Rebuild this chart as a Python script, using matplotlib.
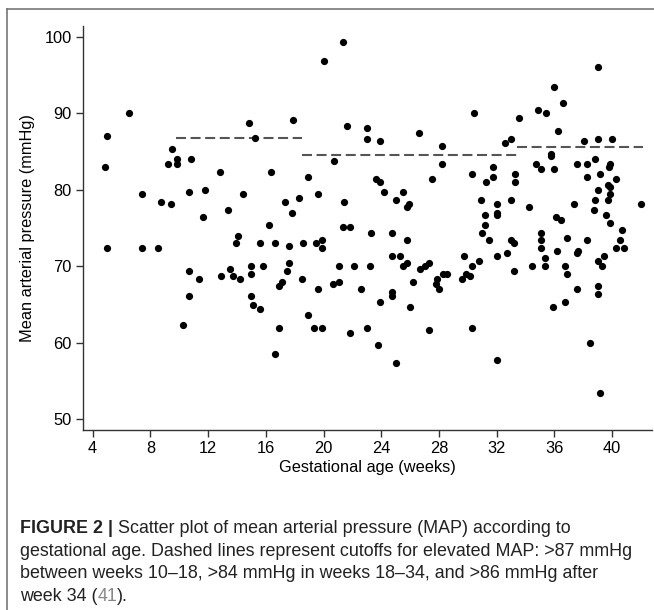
import matplotlib.pyplot as plt
from matplotlib.lines import Line2D

plt.rcParams['font.family'] = ['Liberation Sans', 'DejaVu Sans']

# Gestational age (weeks) and MAP (mmHg)
gest_age = [
    4.97, 4.87, 4.97, 6.55, 7.4, 7.4, 8.55, 8.71, 9.4, 9.24, 9.52, 9.86, 9.86,
    10.8, 10.67, 10.67, 10.67, 10.28, 11.4, 11.68, 11.79, 12.8, 12.92, 13.36,
    13.52, 13.7, 14.07, 13.95, 14.23, 14.39, 14.83, 15.22, 14.94, 14.94, 14.94,
    15.1, 15.63, 15.63, 15.79, 16.34, 16.23, 16.67, 16.67, 16.94, 16.94, 17.1,
    17.36, 17.47, 17.63, 17.63, 17.79, 17.91, 18.32, 18.5, 18.6, 18.94, 18.94,
    19.36, 19.63, 19.63, 19.47, 19.9, 19.9, 19.9, 20.06,
    21.34, 21.64, 20.74, 21.45, 21.34, 21.82, 21.04, 20.65, 21.04, 21.82,
    22.14, 22.6, 23.04, 23.04, 23.92, 23.2, 23.32, 23.04, 23.76, 23.64, 23.92,
    24.19, 23.92, 24.77, 24.77, 24.77, 24.77, 25.05, 25.48, 25.32, 25.48, 25.76,
    25.76, 25.76, 25.94, 25.05, 26.18, 25.99, 26.61, 26.7, 27.03, 27.3, 27.51,
    27.3, 27.86, 27.79, 28.02, 28.29, 28.53, 28.18, 28.18, 29.59, 29.86, 30.14,
    29.75, 30.3, 30.74, 30.3, 30.46, 30.3, 30.9, 31.18, 31.18, 31.01, 31.45,
    31.29, 31.73, 31.73, 32.05, 32.05, 32.05, 32.05, 32.05, 32.58, 33.02, 33.02,
    33.29, 33.29, 33.02, 33.18, 32.74, 33.18, 33.57, 34.26, 34.42, 34.88, 35.44,
    36.0, 36.57, 36.27, 34.75, 35.07, 35.74, 35.74, 36.0, 35.07, 35.07, 35.07,
    35.37, 35.37, 35.9, 36.13, 36.45, 36.18, 36.87, 36.73, 36.87, 36.73, 37.33,
    37.56, 37.63, 37.56, 37.56, 38.02, 38.29, 38.29, 38.29, 38.46, 38.82, 38.99,
    38.99, 39.17, 38.99, 38.82, 38.76, 38.99, 39.31, 39.45, 38.99, 38.99, 39.17,
    40.0, 39.84, 39.75, 39.68, 39.84, 39.84, 39.68, 39.59, 39.88, 40.28, 40.71,
    40.53, 40.28, 40.85, 41.98,
]
map_mmhg = [
    87.0, 83.0, 72.4, 90.1, 79.4, 72.4, 72.4, 78.4, 78.1, 83.4, 85.4, 84.05, 83.4,
    84.05, 79.7, 69.4, 66.1, 62.4, 68.4, 76.4, 80.0, 82.4, 68.7, 77.4,
    69.7, 68.7, 74.0, 73.0, 68.4, 79.4, 88.8, 86.75, 70.1, 69.0, 66.1,
    65.0, 64.4, 73.0, 70.1, 82.4, 75.4, 73.0, 58.6, 62.0, 67.4, 68.0,
    78.4, 69.4, 70.4, 72.7, 77.0, 89.1, 79.0, 68.4, 73.0, 81.7, 63.7,
    62.0, 79.4, 67.1, 73.0, 62.0, 72.4, 73.4, 96.8,
    99.4, 88.4, 83.75, 78.4, 75.1, 75.1, 70.1, 67.7, 68.0, 61.3,
    70.1, 67.1, 88.1, 86.7, 86.4, 70.1, 74.4, 62.0, 59.7, 81.4, 81.05,
    79.7, 65.3, 74.4, 71.4, 66.7, 66.1, 78.7, 79.7, 71.4, 70.1, 70.4,
    73.4, 77.8, 78.1, 57.4, 68.0, 64.7, 87.4, 69.7, 70.1, 70.4, 81.4,
    61.7, 68.4, 67.7, 67.1, 69.0, 69.0, 85.7, 83.4, 68.4, 69.0, 68.7,
    71.4, 70.1, 70.7, 82.1, 90.1, 62.0, 78.7, 76.7, 75.4, 74.4, 73.4,
    81.05, 81.7, 83.05, 78.1, 77.0, 76.7, 71.4, 57.7, 86.1, 86.7, 78.7,
    82.1, 81.05, 73.4, 73.0, 71.7, 69.4, 89.4, 77.8, 70.1, 90.4, 90.1,
    93.4, 91.4, 87.7, 83.4, 82.7, 84.75, 84.4, 82.7, 74.4, 73.4, 72.4,
    71.1, 70.1, 64.7, 76.4, 76.0, 72.0, 73.7, 70.1, 69.0, 65.4, 78.1,
    83.4, 72.0, 71.7, 67.1, 86.4, 83.4, 81.7, 73.4, 60.0, 84.0, 96.1,
    86.7, 82.05, 80.0, 78.7, 77.4, 70.7, 70.1, 71.4, 67.4, 66.4, 53.4,
    86.7, 83.4, 83.05, 80.7, 80.4, 79.4, 78.7, 76.7, 75.7, 81.4, 74.7,
    73.4, 72.4, 72.4, 78.1,
]

# cutoffs for elevated MAP: (start week, end week, mmHg)
cut_start = [9.8, 18.53, 33.4]
cut_end = [18.53, 33.4, 42.16]
cut_level = [86.8, 84.5, 85.6]

fig = plt.figure(figsize=(6.54, 6.10), dpi=100)
ax = fig.add_axes([0.1264, 0.295, 0.8701, 0.662])

ax.scatter(gest_age, map_mmhg, s=27, color='black', linewidths=0, zorder=3)
for x0, x1, lvl in zip(cut_start, cut_end, cut_level):
    ax.plot([x0, x1], [lvl, lvl], color='#555555', lw=1.5,
            dashes=(4.8, 2.2), zorder=2)

ax.set_xlim(3.31, 42.74)
ax.set_ylim(48.6, 101.4)
ax.set_xticks([4, 8, 12, 16, 20, 24, 28, 32, 36, 40])
ax.set_yticks([50, 60, 70, 80, 90, 100])
for side in ['top', 'right']:
    ax.spines[side].set_visible(False)
for side in ['left', 'bottom']:
    ax.spines[side].set_color('#333333')
    ax.spines[side].set_linewidth(1.0)
ax.tick_params(direction='out', length=5, width=1.0, color='#333333',
               labelsize=11.8, pad=3)
ax.set_xlabel('Gestational age (weeks)', fontsize=11.8, labelpad=2.5)
ax.set_ylabel('Mean arterial pressure (mmHg)', fontsize=11.8, labelpad=7)

# frame round the figure panel
fig.add_artist(Line2D([7 / 654, 7 / 654], [0, 1 - 9 / 610], color='#777777', lw=1.2))
fig.add_artist(Line2D([7 / 654, 1], [1 - 9 / 610, 1 - 9 / 610], color='#777777', lw=1.2))

# caption
cap_size = 12.9
cap_kw = dict(fontsize=cap_size, va='baseline', ha='left', color='#222222')
x0 = 20 / 654
rows = [533, 556, 578, 601]
renderer = fig.canvas.get_renderer()


def put_parts(y_px, parts):
    x = x0
    for txt, weight, col in parts:
        t = fig.text(x, 1 - y_px / 610, txt, fontweight=weight,
                     **{**cap_kw, 'color': col})
        bb = t.get_window_extent(renderer=renderer)
        x += bb.width / fig.bbox.width


put_parts(rows[0], [('FIGURE 2 | ', 'bold', '#222222'),
                    ('Scatter plot of mean arterial pressure (MAP) according to',
                     'normal', '#222222')])
fig.text(x0, 1 - rows[1] / 610,
         'gestational age. Dashed lines represent cutoffs for elevated MAP: >87 mmHg',
         **cap_kw)
fig.text(x0, 1 - rows[2] / 610,
         'between weeks 10\u201318, >84 mmHg in weeks 18\u201334, and >86 mmHg after',
         **cap_kw)
put_parts(rows[3], [('week 34 (', 'normal', '#222222'),
                    ('41', 'normal', '#888888'),
                    (').', 'normal', '#222222')])

fig.savefig('out.png', dpi=100)
